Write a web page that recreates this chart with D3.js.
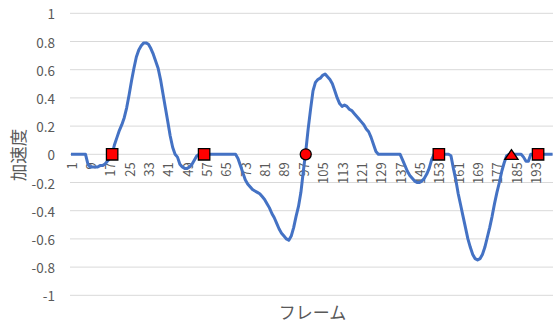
<!DOCTYPE html>
<html>
<head>
<meta charset="utf-8">
<script src="https://cdn.jsdelivr.net/npm/d3@7"></script>
<style>
  body { margin: 0; background: #fff; }
  svg text { font-family: "Noto Sans CJK JP", "Noto Sans", sans-serif; fill: #595959; }
</style>
</head>
<body>
<div id="chart"></div>
<script>
// acceleration per frame (frames 1..200)
const accel = [
  0, 0, 0, 0, 0, 0, 0, -0.07, -0.09, -0.09,
  -0.09, -0.09, -0.08, -0.08, -0.07, -0.05, -0.03, 0, 0.07, 0.12,
  0.17, 0.21, 0.26, 0.33, 0.42, 0.52, 0.61, 0.69, 0.74, 0.77,
  0.79, 0.79, 0.78, 0.75, 0.71, 0.66, 0.61, 0.53, 0.43, 0.33,
  0.23, 0.13, 0.05, 0, -0.02, -0.07, -0.09, -0.1, -0.1, -0.09,
  -0.07, -0.04, -0.01, 0, 0, 0, 0, 0, 0, 0,
  0, 0, 0, 0, 0, 0, 0, 0, 0, -0.03,
  -0.08, -0.13, -0.18, -0.21, -0.23, -0.25, -0.26, -0.27, -0.28, -0.3,
  -0.32, -0.35, -0.38, -0.42, -0.45, -0.49, -0.53, -0.56, -0.58, -0.6,
  -0.61, -0.58, -0.52, -0.44, -0.37, -0.27, -0.12, 0.02, 0.18, 0.32,
  0.45, 0.51, 0.53, 0.54, 0.56, 0.57, 0.55, 0.53, 0.5, 0.45,
  0.4, 0.36, 0.34, 0.35, 0.34, 0.32, 0.31, 0.29, 0.27, 0.25,
  0.23, 0.21, 0.18, 0.16, 0.12, 0.07, 0.02, 0, 0, 0,
  0, 0, 0, 0, 0, 0, 0, -0.04, -0.08, -0.12,
  -0.15, -0.17, -0.19, -0.2, -0.2, -0.19, -0.17, -0.14, -0.1, -0.04,
  0, 0, 0, 0, 0, 0, 0, -0.01, -0.1, -0.18,
  -0.28, -0.36, -0.44, -0.52, -0.6, -0.66, -0.71, -0.74, -0.75, -0.74,
  -0.71, -0.66, -0.59, -0.52, -0.44, -0.35, -0.27, -0.2, -0.12, -0.06,
  -0.01, 0, 0, 0, 0, 0, 0, -0.02, -0.05, -0.05,
  0, 0, 0, 0, 0, 0, 0, 0, 0, 0
];
const frames = accel.map((d, i) => i + 1);

// highlighted frames
const markFrames = [18, 56, 98, 153, 183, 194];
const markValues = [0, 0, 0, 0, 0, 0];
const markShapes = ["square", "square", "circle", "square", "triangle", "square"];

const yTicks = [1, 0.8, 0.6, 0.4, 0.2, 0, -0.2, -0.4, -0.6, -0.8, -1];
const xTickFrames = frames.filter(f => (f - 1) % 8 === 0);

const width = 553, height = 324;
const svg = d3.select("#chart").append("svg")
    .attr("width", width)
    .attr("height", height);

const x = d3.scalePoint().domain(frames).range([71, 552.6]);
const y = d3.scaleLinear().domain([-1, 1]).range([295.3, 13.3]);

// gridlines
svg.append("g")
  .selectAll("line")
  .data(yTicks)
  .join("line")
    .attr("x1", 70).attr("x2", width)
    .attr("y1", d => y(d)).attr("y2", d => y(d))
    .attr("stroke", "#d9d9d9").attr("stroke-width", 1);

// y labels
svg.append("g")
  .selectAll("text")
  .data(yTicks)
  .join("text")
    .attr("x", 55)
    .attr("y", d => y(d))
    .attr("text-anchor", "end")
    .attr("dominant-baseline", "central")
    .attr("font-size", "13.5px")
    .text(d => d === 0 ? "0" : d3.format("~g")(d).replace("−", "-"));

// x labels (rotated, hang below zero line)
svg.append("g")
  .selectAll("text")
  .data(xTickFrames)
  .join("text")
    .attr("transform", d => `translate(${x(d)},${y(0) + 8}) rotate(-90)`)
    .attr("text-anchor", "end")
    .attr("dominant-baseline", "central")
    .attr("font-size", "13px")
    .text(d => d);

// line
const line = d3.line()
    .x((d, i) => x(frames[i]))
    .y(d => y(d));

svg.append("path")
    .datum(accel)
    .attr("d", line)
    .attr("fill", "none")
    .attr("stroke", "#4472C4")
    .attr("stroke-width", 3)
    .attr("stroke-linejoin", "round");

// markers
const shapePath = {
  square: "M-5.7,-5.7H5.7V5.7H-5.7Z",
  circle: d3.symbol(d3.symbolCircle, 95)(),
  triangle: "M0,-4.6L6.6,5L-6.6,5Z"
};
svg.append("g")
  .selectAll("path")
  .data(markFrames)
  .join("path")
    .attr("transform", (d, i) => `translate(${x(d)},${y(markValues[i])})`)
    .attr("d", (d, i) => shapePath[markShapes[i]])
    .attr("fill", "#ff0000")
    .attr("stroke", "#000")
    .attr("stroke-width", 1.3);

// axis titles
svg.append("text")
    .attr("transform", `translate(17,155) rotate(-90)`)
    .attr("text-anchor", "middle")
    .attr("dominant-baseline", "central")
    .attr("font-size", "17.5px")
    .text("加速度");

svg.append("text")
    .attr("x", 312.5)
    .attr("y", 319)
    .attr("text-anchor", "middle")
    .attr("font-size", "17px")
    .text("フレーム");
</script>
</body>
</html>
